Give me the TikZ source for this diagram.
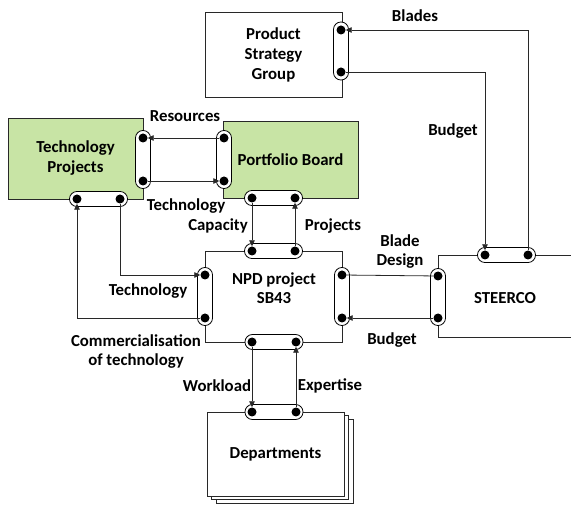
\documentclass[tikz,border=0pt]{standalone}
\usepackage{fontspec}
\setmainfont{Carlito}
\usetikzlibrary{arrows.meta}
\definecolor{lgreen}{RGB}{200,228,165}
\definecolor{ln}{RGB}{40,40,40}
\tikzset{
  box/.style={draw=ln, line width=0.8pt, inner sep=0pt, font=\bfseries\fontsize{16.8}{20}\selectfont, align=center},
  lbl/.style={inner sep=1pt, font=\bfseries\fontsize{16.8}{19}\selectfont, align=center},
  capv/.style={draw=black, fill=white, line width=0.8pt, minimum width=15pt, rounded corners=7.4pt, inner sep=0pt},
  caph/.style={draw=black, fill=white, line width=0.8pt, minimum height=15pt, rounded corners=7.4pt, inner sep=0pt},
  pdot/.style={circle, fill=black, inner sep=0pt, minimum size=9pt},
  conn/.style={draw=ln, line width=0.8pt},
  arr/.style={conn, -{Triangle[length=6pt,width=5.5pt]}}
}
\begin{document}
\begin{tikzpicture}[x=1pt,y=-1pt]
\useasboundingbox (0,0) rectangle (571,505);
\clip (0,0) rectangle (571,505);
% boxes
\node[box, minimum width=137pt, minimum height=85pt] (psg) at (273.5,54.5) {Product\\Strategy\\Group};
\node[box, fill=lgreen, minimum width=135pt, minimum height=81pt] (tp) at (75.5,158.5) {Technology\\Projects};
\node[box, fill=lgreen, minimum width=135pt, minimum height=77pt] (pb) at (290.5,159.5) {Portfolio Board};
\node[box, minimum width=137pt, minimum height=91pt] (npd) at (273.5,296.5) {};
\node[lbl] (npdt) at (274,288) {NPD project\\SB43};
\draw[ln, line width=0.8pt] (580,255) -- (438,255) -- (438,337) -- (580,337);
\node[lbl] (stc) at (505,298) {STEERCO};
% departments stack
\node[box, fill=white, minimum width=137pt, minimum height=84pt] (dep3) at (284.5,461) {};
\node[box, fill=white, minimum width=137pt, minimum height=84pt] (dep2) at (280,457.5) {};
\node[box, fill=white, minimum width=137pt, minimum height=84pt] (dep) at (275.5,454) {Departments};
% labels
\node[lbl, fill=white, inner sep=0pt] (comm) at (136,352) {Commercialisation\\of technology};
\node[lbl] at (415,16) {Blades};
\node[lbl] at (453,131) {Budget};
\node[lbl] at (185,116) {Resources};
\node[lbl] at (186,206) {Technology};
\node[lbl] at (218,226) {Capacity};
\node[lbl] at (333,226) {Projects};
\node[lbl] at (400,252) {Blade\\Design};
\node[lbl] at (148,291) {Technology};
\node[lbl] at (392,340) {Budget};
\node[lbl] at (217,386) {Workload};
\node[lbl] at (330,386) {Expertise};
% capsules
\node[capv, minimum height=58pt] (psgc) at (341,51) {};
\node[capv, minimum height=58pt] (tprc) at (143,159.5) {};
\node[caph, minimum width=58pt] (tpbc) at (98.5,199) {};
\node[capv, minimum height=58pt] (pblc) at (224,159.5) {};
\node[caph, minimum width=58pt] (pbbc) at (273.5,198) {};
\node[caph, minimum width=58pt] (npdtc) at (273.5,251) {};
\node[capv, minimum height=58pt] (npdlc) at (205,296.5) {};
\node[capv, minimum height=58pt] (npdrc) at (342,296.5) {};
\node[caph, minimum width=58pt] (npdbc) at (274,342) {};
\node[caph, minimum width=58pt] (stpc) at (506.5,255) {};
\node[capv, minimum height=57pt] (stlc) at (438,297) {};
\node[caph, minimum width=58pt] (depc) at (274,412) {};
% dots
\node[pdot] (psg1) at (341,30) {};
\node[pdot] (psg2) at (341,72) {};
\node[pdot] (tpr1) at (143,138) {};
\node[pdot] (tpr2) at (143,181) {};
\node[pdot] (tpb1) at (77,199) {};
\node[pdot] (tpb2) at (120,199) {};
\node[pdot] (pbl1) at (224,138) {};
\node[pdot] (pbl2) at (224,181) {};
\node[pdot] (pbb1) at (252,198) {};
\node[pdot] (pbb2) at (295,198) {};
\node[pdot] (npdt1) at (252,251) {};
\node[pdot] (npdt2) at (295,251) {};
\node[pdot] (npdl1) at (205,275) {};
\node[pdot] (npdl2) at (205,318) {};
\node[pdot] (npdr1) at (342,275) {};
\node[pdot] (npdr2) at (342,318) {};
\node[pdot] (npdb1) at (252,342) {};
\node[pdot] (npdb2) at (296,342) {};
\node[pdot] (st1) at (485,255) {};
\node[pdot] (st2) at (528,255) {};
\node[pdot] (stl1) at (438,276) {};
\node[pdot] (stl2) at (438,318) {};
\node[pdot] (dep1) at (252,412) {};
\node[pdot] (dep2p) at (296,412) {};
% connectors
\draw[arr] (st2) |- (psg1);
\draw[arr] (psg2) -| (st1);
\draw[arr] (pbl1) -- (tpr1);
\draw[arr] (tpr2) -- (pbl2);
\draw[arr] (pbb1) -- (npdt1);
\draw[arr] (npdt2) -- (pbb2);
\draw[arr] (tpb2) |- (npdl1);
\draw[arr] (npdl2) -| (tpb1);
\draw[conn] (npdr1) -- (stl1);
\draw[arr] (stl2) -- (npdr2);
\draw[arr] (npdb1) -- (dep1);
\draw[arr] (dep2p) -- (npdb2);
\end{tikzpicture}
\end{document}
